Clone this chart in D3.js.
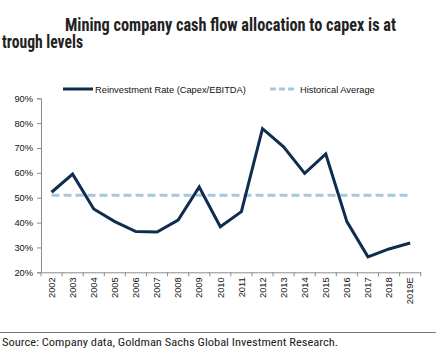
<!DOCTYPE html>
<html><head><meta charset="utf-8">
<script src="https://cdn.jsdelivr.net/npm/d3@7"></script>
<style>
html,body{margin:0;padding:0;background:#fff;}
svg{display:block;}
</style></head>
<body>
<svg id="chart" width="439" height="357"></svg>
<script>
const years = ["2002","2003","2004","2005","2006","2007","2008","2009","2010","2011","2012","2013","2014","2015","2016","2017","2018","2019E"];
const reinvestmentRate = [52.2,59.5,45.5,40.4,36.4,36.2,41,54.3,38.3,44.4,77.8,70.5,59.8,67.6,40.4,26.2,29.4,31.8];
const historicalAverage = 51.0;
const yTicks = [20,30,40,50,60,70,80,90];
const titleLines = ["Mining company cash flow allocation to capex is at","trough levels"];
const legendLabels = ["Reinvestment Rate (Capex/EBITDA)","Historical Average"];
const sourceText = "Source: Company data, Goldman Sachs Global Investment Research.";

(function(){
const svg = d3.select("#chart");
const narrow = "'Liberation Sans Narrow','Arial Narrow','Roboto Condensed',sans-serif";
const sans = "Arial,'Liberation Sans',sans-serif";
const navy = "#0f2d4f", lightBlue = "#a7c7e0", axisGray = "#8c8c8c";

const mLeft = 41, mRight = 420.7, mTop = 98.3, mBottom = 272.3;
const x = d3.scaleBand().domain(years).range([mLeft, mRight]);
const y = d3.scaleLinear().domain([20,90]).range([mBottom, mTop]);

// Title
svg.append("text").attr("x",65).attr("y",30.5).attr("font-family",narrow).attr("font-weight","bold")
  .attr("font-size",18).attr("fill","#222").attr("textLength",331).attr("lengthAdjust","spacingAndGlyphs").text(titleLines[0]);
svg.append("text").attr("x",2).attr("y",47.5).attr("font-family",narrow).attr("font-weight","bold")
  .attr("font-size",18).attr("fill","#222").attr("textLength",81).attr("lengthAdjust","spacingAndGlyphs").text(titleLines[1]);

// Legend
const lg = svg.append("g");
lg.append("line").attr("x1",63).attr("x2",93).attr("y1",89).attr("y2",89).attr("stroke",navy).attr("stroke-width",3);
lg.append("text").attr("x",95).attr("y",92.5).attr("font-family",sans).attr("font-size",9.3).attr("fill","#111").text(legendLabels[0]);
lg.append("line").attr("x1",270).attr("x2",295).attr("y1",89).attr("y2",89).attr("stroke",lightBlue).attr("stroke-width",3).attr("stroke-dasharray","6,3");
lg.append("text").attr("x",300).attr("y",92.5).attr("font-family",sans).attr("font-size",9.3).attr("fill","#111").text(legendLabels[1]);

// Y axis
const yAxis = d3.axisLeft(y).tickValues(yTicks).tickFormat(d => d + "%").tickSize(4).tickPadding(4);
const yg = svg.append("g").attr("transform",`translate(${mLeft},0)`).call(yAxis);
yg.select(".domain").attr("stroke",axisGray);
yg.selectAll(".tick line").attr("stroke",axisGray);
yg.selectAll(".tick text").attr("font-family",sans).attr("font-size",9.3).attr("fill","#111");

// X axis
const xAxis = d3.axisBottom(x).tickSize(0).tickPadding(0);
const xg = svg.append("g").attr("transform",`translate(0,${mBottom})`).call(xAxis);
xg.select(".domain").attr("stroke",axisGray);
xg.selectAll(".tick text").attr("font-family",sans).attr("font-size",9.3).attr("fill","#111")
  .attr("transform","rotate(-90)").attr("text-anchor","end").attr("dx",-5).attr("dy",3.2).attr("x",0).attr("y",0);
// tick marks between categories
const bounds = years.map(d => x(d)).concat([x(years[years.length-1]) + x.bandwidth()]);
svg.append("g").selectAll("line").data(bounds).join("line")
  .attr("x1",d=>d).attr("x2",d=>d).attr("y1",mBottom).attr("y2",mBottom+4).attr("stroke",axisGray);

// Historical average line
svg.append("line").attr("x1",x(years[0])+x.bandwidth()/2).attr("x2",x(years[years.length-1])+x.bandwidth()/2)
  .attr("y1",y(historicalAverage)).attr("y2",y(historicalAverage))
  .attr("stroke",lightBlue).attr("stroke-width",3).attr("stroke-dasharray","8,4");

// Series line
const line = d3.line().x((d,i)=>x(years[i])+x.bandwidth()/2).y(d=>y(d));
svg.append("path").datum(reinvestmentRate).attr("d",line).attr("fill","none")
  .attr("stroke",navy).attr("stroke-width",3).attr("stroke-linejoin","miter");

// Separator and source
svg.append("line").attr("x1",0).attr("x2",436).attr("y1",332.5).attr("y2",332.5).attr("stroke","#777").attr("stroke-width",1);
svg.append("text").attr("x",2).attr("y",345.5).attr("font-family",narrow).attr("font-size",11.5).attr("fill","#222")
  .attr("textLength",336).attr("lengthAdjust","spacingAndGlyphs").text(sourceText);
})();
</script>
</body></html>
